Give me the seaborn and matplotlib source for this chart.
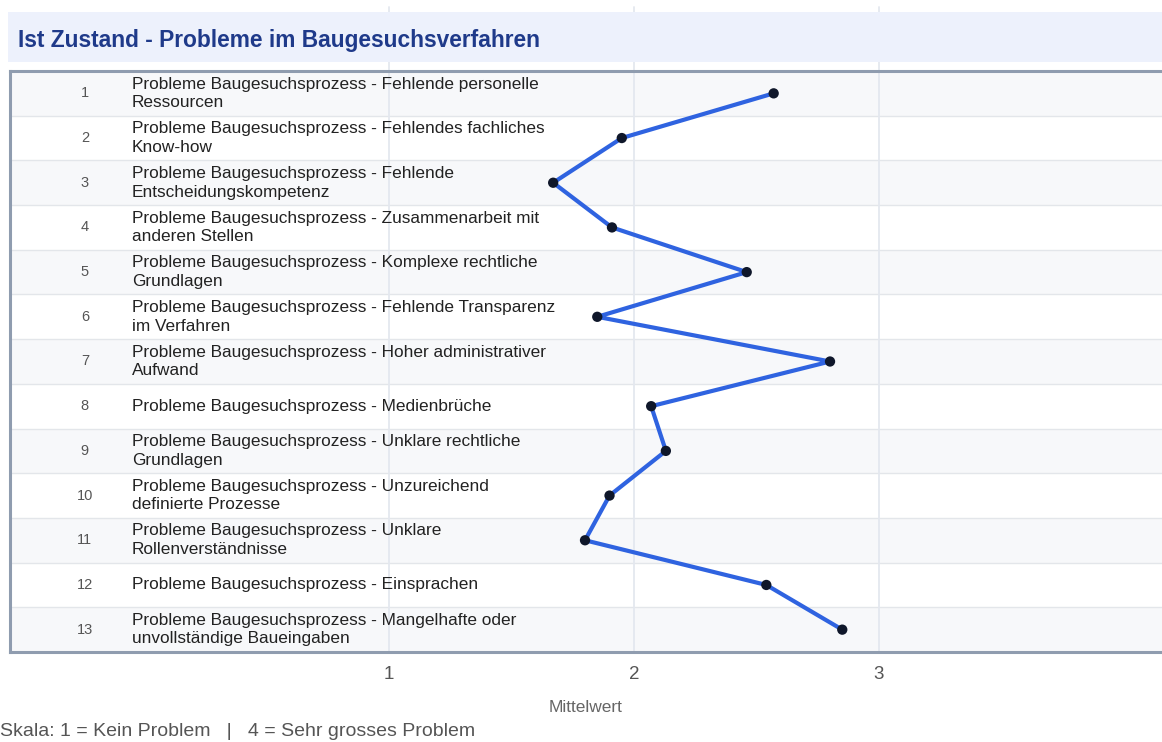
import matplotlib
matplotlib.use("Agg")
import matplotlib.pyplot as plt
from matplotlib.patches import Rectangle
import seaborn as sns
import pandas as pd

# Daten
nummern = list(range(1, 14))
probleme = [
    "Probleme Baugesuchsprozess - Fehlende personelle\nRessourcen",
    "Probleme Baugesuchsprozess - Fehlendes fachliches\nKnow-how",
    "Probleme Baugesuchsprozess - Fehlende\nEntscheidungskompetenz",
    "Probleme Baugesuchsprozess - Zusammenarbeit mit\nanderen Stellen",
    "Probleme Baugesuchsprozess - Komplexe rechtliche\nGrundlagen",
    "Probleme Baugesuchsprozess - Fehlende Transparenz\nim Verfahren",
    "Probleme Baugesuchsprozess - Hoher administrativer\nAufwand",
    "Probleme Baugesuchsprozess - Medienbrüche",
    "Probleme Baugesuchsprozess - Unklare rechtliche\nGrundlagen",
    "Probleme Baugesuchsprozess - Unzureichend\ndefinierte Prozesse",
    "Probleme Baugesuchsprozess - Unklare\nRollenverständnisse",
    "Probleme Baugesuchsprozess - Einsprachen",
    "Probleme Baugesuchsprozess - Mangelhafte oder\nunvollständige Baueingaben",
]
mittelwerte = [2.57, 1.95, 1.67, 1.91, 2.46, 1.85, 2.80, 2.07, 2.13, 1.90, 1.80, 2.54, 2.85]
x_ticks = [1, 2, 3]

df = pd.DataFrame({"Nr": nummern, "Problem": probleme, "Mittelwert": mittelwerte})

sns.set_style("white")
plt.rcParams["font.family"] = ["Liberation Sans", "DejaVu Sans"]

W, H = 1162, 742
fig = plt.figure(figsize=(W / 100, H / 100), dpi=100)

# Titelband
fig.patches.append(Rectangle((8 / W, 1 - 62 / H), 1 - 8 / W, 50 / H,
                             transform=fig.transFigure, facecolor="#edf1fc",
                             edgecolor="none", zorder=0))
fig.text(18 / W, 1 - 40 / H, "Ist Zustand - Probleme im Baugesuchsverfahren",
         fontsize=16.4, fontweight="bold", color="#1f3a8a", va="center", ha="left")

ax = fig.add_axes([10 / W, 1 - 652 / H, 1 - 10 / W, 581 / H])
ax.set_facecolor("white")

# Zeilenbänder
for i, nr in enumerate(nummern):
    if i % 2 == 0:
        ax.axhspan(nr - 0.5, nr + 0.5, color="#f7f8fa", zorder=0, lw=0)
    if i > 0:
        ax.axhline(nr - 0.5, color="#e3e6ea", lw=1, zorder=1)

# Gitterlinien (reichen bis über das Titelband)
for xt in x_ticks:
    ax.axvline(xt, ymin=0, ymax=(652 - 7) / 581, color="#e4e8ef", lw=1.3,
               zorder=1, clip_on=False)

sns.lineplot(data=df, x="Mittelwert", y="Nr", sort=False, estimator=None,
             color="#2f63e0", lw=3, ax=ax, zorder=3)
sns.scatterplot(data=df, x="Mittelwert", y="Nr", color="#0f172a", s=55,
                edgecolor="none", ax=ax, zorder=4)

trans = ax.get_yaxis_transform()
for nr, txt in zip(nummern, probleme):
    ax.text(0.065, nr, str(nr), transform=trans, ha="center", va="center",
            fontsize=10.5, color="#555555")
    ax.text(0.106, nr, txt, transform=trans, ha="left", va="center",
            fontsize=12.4, color="#222222", linespacing=1.3)

ax.set_xlim(-0.547, 4.155)
ax.set_ylim(13.5, 0.5)
ax.set_yticks([])
ax.set_ylabel("")
ax.set_xticks(x_ticks)
ax.set_xticklabels([str(t) for t in x_ticks])
ax.tick_params(axis="x", length=0, pad=10, labelsize=13.5, labelcolor="#555555")
ax.set_xlabel("Mittelwert", fontsize=12.5, color="#666666", labelpad=12)

for side in ["top", "left", "bottom"]:
    ax.spines[side].set_color("#8f9caf")
    ax.spines[side].set_linewidth(2.2)
ax.spines["right"].set_visible(False)

fig.text(0 / W, 1 - 732 / H,
         "Skala: 1 = Kein Problem   |   4 = Sehr grosses Problem",
         fontsize=14, color="#555555", ha="left", va="center")

fig.savefig("out.png", dpi=100, facecolor="white")
